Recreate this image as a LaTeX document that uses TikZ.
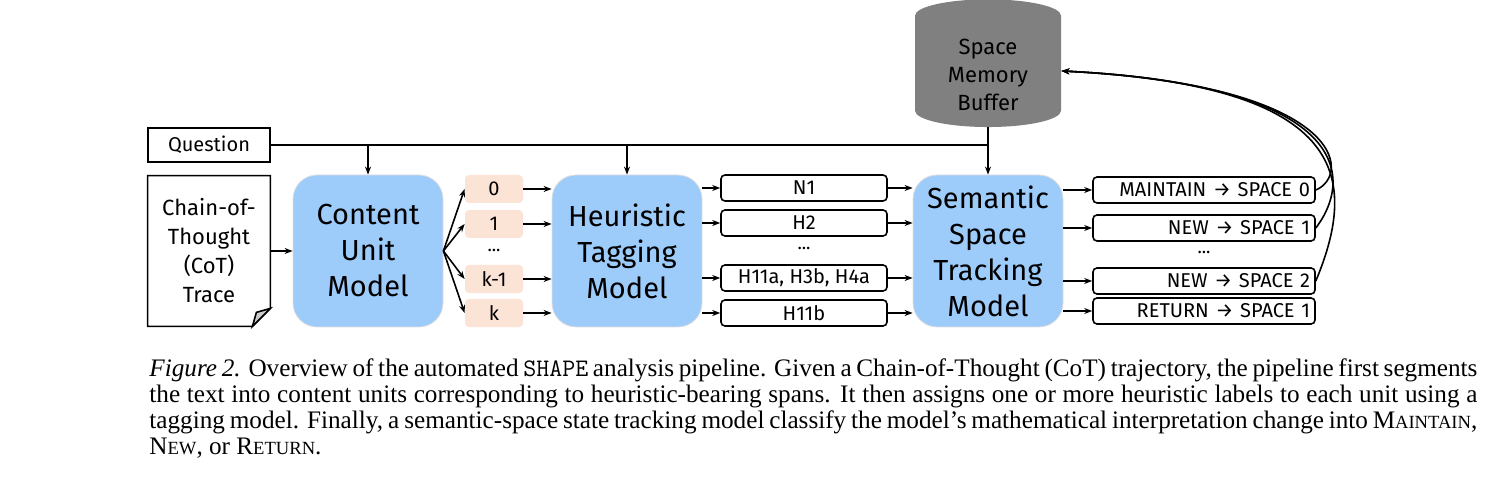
\documentclass[tikz,border=0pt]{standalone}
\usepackage{fontspec}
\setmainfont{Liberation Serif}
\newfontfamily\figsans{Fira Sans}
\usetikzlibrary{arrows.meta,shapes.geometric,positioning}
\definecolor{modelblue}{HTML}{9DCBFA}
\definecolor{unitpink}{HTML}{FBE3D6}
\definecolor{bufgray}{HTML}{808080}
\newcommand{\capsc}[2]{#1{\fontsize{9.3}{13}\selectfont #2}}
\tikzset{
  model/.style={draw=gray!25, fill=modelblue, rounded corners=12pt, minimum width=75pt, minimum height=76pt, align=center, font=\figsans\fontsize{14.5}{18}\selectfont},
  unit/.style={fill=unitpink, rounded corners=2pt, minimum width=29pt, minimum height=14pt, font=\figsans\fontsize{10}{11}\selectfont},
  tag/.style={draw, thick, rounded corners=2pt, minimum width=83pt, minimum height=13pt, inner sep=1pt, font=\figsans\fontsize{10}{11}\selectfont},
  outbox/.style={draw, thick, rounded corners=2pt, text width=106pt, minimum height=13pt, inner sep=2.5pt, align=right, font=\figsans\fontsize{10}{11}\selectfont},
  arr/.style={-{Stealth[length=4pt,width=3pt]}, thick},
}
\begin{document}
\begin{tikzpicture}[x=0.5pt,y=-0.5pt]
\useasboundingbox (0,0) rectangle (1494,490);
% inputs
\node[draw, thick, minimum width=61pt, minimum height=17pt, font=\figsans\fontsize{10}{11}\selectfont] (question) at (209,145) {Question};
\node[minimum width=61pt, minimum height=75pt, align=center, font=\figsans\fontsize{11}{14.5}\selectfont] (cot) at (209,251) {Chain-of-\\Thought\\(CoT)\\Trace};
\draw[thick] (cot.north west) -- (cot.north east) -- ([yshift=9pt]cot.south east) -- ([xshift=-9pt]cot.south east) -- (cot.south west) -- cycle;
\draw[thick, fill=gray!40] ([yshift=9pt]cot.south east) -- ([xshift=-9pt]cot.south east) -- ([xshift=-7pt,yshift=7pt]cot.south east) -- cycle;
% models
\node[model] (content) at (368,251) {Content\\Unit\\Model};
\node[model] (heur) at (627,251) {Heuristic\\Tagging\\Model};
\node[model] (sem) at (988,251) {Semantic\\Space\\Tracking\\Model};
\node[cylinder, shape border rotate=90, aspect=0.35, fill=bufgray, minimum width=73pt, minimum height=50pt, align=center, font=\figsans\fontsize{11}{14}\selectfont] (buffer) at (988,75) {Space\\Memory\\Buffer};
% content units
\node[unit] (u0) at (494,189) {0};
\node[unit] (u1) at (494,224) {1};
\node[font=\figsans\small] (ud) at (494,250) {...};
\node[unit] (uk1) at (494,279) {k-1};
\node[unit] (uk) at (494,313) {k};
% tags
\node[tag] (t0) at (804,188) {N1};
\node[tag] (t1) at (804,223) {H2};
\node[font=\figsans\small] (td) at (804,248) {...};
\node[tag] (tk1) at (804,278) {H11a, H3b, H4a};
\node[tag] (tk) at (804,313) {H11b};
% outputs
\node[outbox] (o0) at (1204,190) {MAINTAIN → SPACE 0};
\node[outbox] (o1) at (1204,228) {NEW → SPACE 1};
\node[font=\figsans\small] (od) at (1204,252) {...};
\node[outbox] (ok1) at (1204,281) {NEW → SPACE 2};
\node[outbox] (ok) at (1204,311) {RETURN → SPACE 1};
% connectors
\coordinate (qend) at (988,145);
\draw[thick] (question.east) -- (qend);
\draw[arr] (368,145) -- (content.north);
\draw[arr] (627,145) -- (heur.north);
\draw[arr] (buffer.south) -- (sem.north);
\draw[arr] (cot.east) -- (content.west);
\foreach \u in {u0,u1,uk1,uk} {
  \draw[arr] (content.east) -- (\u.west);
  \draw[arr] (\u.east) -- (\u.east -| heur.west);
}
\foreach \t in {t0,t1,tk1,tk} {
  \draw[arr] (\t.west -| heur.east) -- (\t.west);
  \draw[arr] (\t.east) -- (\t.east -| sem.west);
}
\foreach \o in {o0,o1,ok1,ok} \draw[arr] (\o.west -| sem.east) -- (\o.west);
\foreach \o/\c in {o0/1352,o1/1356,ok1/1360} \draw[arr] (\o.east) .. controls (\c,175) and (1345,85) .. ([yshift=2pt]buffer.east);
% caption
\node[anchor=north west, text width=664pt, align=justify, inner sep=0pt, font=\fontsize{12.6}{13}\selectfont] (caption) at (149,358) {\textit{Figure 2.} Overview of the automated \texttt{SHAPE} analysis pipeline. Given a Chain-of-Thought (CoT) trajectory, the pipeline first segments the text into content units corresponding to heuristic-bearing spans. It then assigns one or more heuristic labels to each unit using a tagging model. Finally, a semantic-space state tracking model classify the model's mathematical interpretation change into \capsc{M}{AINTAIN}, \capsc{N}{EW}, or \capsc{R}{ETURN}.};
\end{tikzpicture}
\end{document}
